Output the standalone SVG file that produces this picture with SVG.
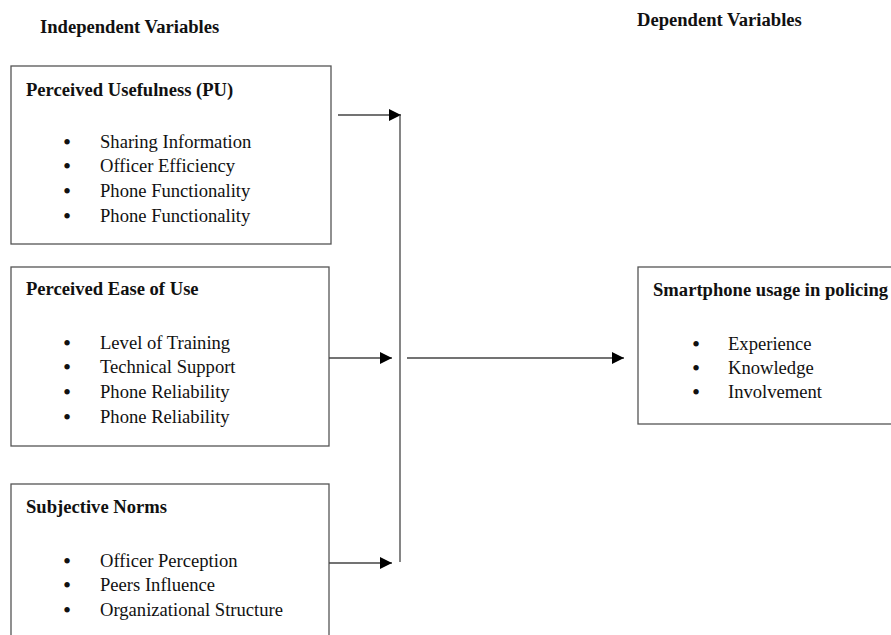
<svg xmlns="http://www.w3.org/2000/svg" width="891" height="635" viewBox="0 0 891 635">
<defs>
<style>
.box{fill:#fff;stroke:#555;stroke-width:1.3}
.t{font-family:"Liberation Serif","Times New Roman",serif;font-size:18.6px;fill:#111}
.b{font-weight:bold}
.d{font-family:"Liberation Serif","Times New Roman",serif;font-size:23px;fill:#111}
.ln{stroke:#444;stroke-width:1.3;fill:none}
</style>
<marker id="ah" markerWidth="12" markerHeight="12" refX="12" refY="6" orient="auto" markerUnits="userSpaceOnUse">
<path d="M0,0 L12,6 L0,12 Z" fill="#000"/>
</marker>
</defs>
<rect width="891" height="635" fill="#fff"/>
<text class="t b" x="40" y="33">Independent Variables</text>
<text class="t b" x="637" y="26">Dependent Variables</text>

<g id="pu">
<rect class="box" x="11" y="66" width="320" height="178"/>
<text class="t b" x="26" y="96">Perceived Usefulness (PU)</text>
<text class="d" x="63" y="150">•</text><text class="t" x="100" y="148">Sharing Information</text>
<text class="d" x="63" y="174">•</text><text class="t" x="100" y="172">Officer Efficiency</text>
<text class="d" x="63" y="199">•</text><text class="t" x="100" y="197">Phone Functionality</text>
<text class="d" x="63" y="224">•</text><text class="t" x="100" y="222">Phone Functionality</text>
</g>

<g id="peou">
<rect class="box" x="11" y="267" width="318" height="179"/>
<text class="t b" x="26" y="295">Perceived Ease of Use</text>
<text class="d" x="63" y="351">•</text><text class="t" x="100" y="349">Level of Training</text>
<text class="d" x="63" y="375">•</text><text class="t" x="100" y="373">Technical Support</text>
<text class="d" x="63" y="400">•</text><text class="t" x="100" y="398">Phone Reliability</text>
<text class="d" x="63" y="425">•</text><text class="t" x="100" y="423">Phone Reliability</text>
</g>

<g id="sn">
<rect class="box" x="11" y="484" width="318" height="170"/>
<text class="t b" x="26" y="513">Subjective Norms</text>
<text class="d" x="63" y="569">•</text><text class="t" x="100" y="567">Officer Perception</text>
<text class="d" x="63" y="593">•</text><text class="t" x="100" y="591">Peers Influence</text>
<text class="d" x="63" y="618">•</text><text class="t" x="100" y="616">Organizational Structure</text>
</g>

<g id="usage">
<rect class="box" x="638" y="267" width="270" height="157"/>
<text class="t b" x="653" y="296">Smartphone usage in policing</text>
<text class="d" x="692" y="352">•</text><text class="t" x="728" y="350">Experience</text>
<text class="d" x="692" y="376">•</text><text class="t" x="728" y="374">Knowledge</text>
<text class="d" x="692" y="400">•</text><text class="t" x="728" y="398">Involvement</text>
</g>

<g id="connectors">
<line class="ln" x1="338" y1="115" x2="401" y2="115" marker-end="url(#ah)"/>
<line class="ln" x1="400" y1="115" x2="400" y2="562"/>
<line class="ln" x1="329" y1="358" x2="392" y2="358" marker-end="url(#ah)"/>
<line class="ln" x1="329" y1="563" x2="392" y2="563" marker-end="url(#ah)"/>
<line class="ln" x1="407" y1="358" x2="624" y2="358" marker-end="url(#ah)"/>
</g>
</svg>
